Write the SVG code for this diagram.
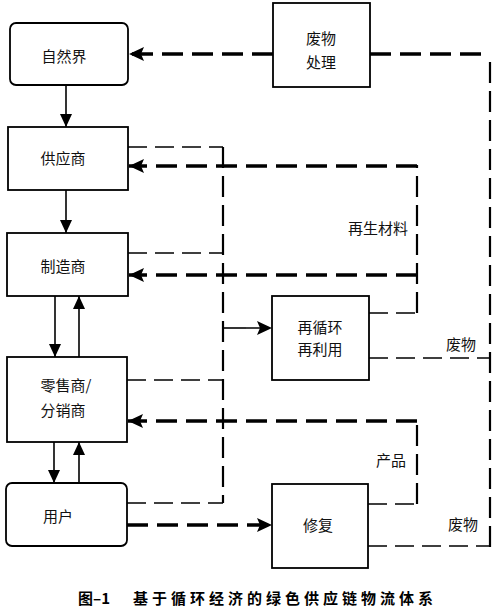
<svg xmlns="http://www.w3.org/2000/svg" width="500" height="616" viewBox="0 0 500 616">
<defs>
<marker id="ah" markerUnits="userSpaceOnUse" markerWidth="14" markerHeight="14" refX="13" refY="7" orient="auto"><path d="M0,1 L13,7 L0,13 z" fill="#000"/></marker>
<marker id="ahb" markerUnits="userSpaceOnUse" markerWidth="16" markerHeight="16" refX="15" refY="8" orient="auto"><path d="M0,1 L15,8 L0,15 L3,8 z" fill="#000"/></marker>
<style>
.box{fill:#fff;stroke:#000;stroke-width:1.8}
.t{font-family:"Noto Sans CJK SC","Liberation Sans",sans-serif;font-size:15px;fill:#111;text-anchor:middle;dominant-baseline:central}
.solid{fill:none;stroke:#000;stroke-width:1.6}
.thick{fill:none;stroke:#000;stroke-width:3.6;stroke-dasharray:21 9}
.med{fill:none;stroke:#000;stroke-width:2.2;stroke-dasharray:21 8}
.thin{fill:none;stroke:#000;stroke-width:1.5;stroke-dasharray:19 8}
.cap{font-family:"Noto Sans CJK SC","Liberation Sans",sans-serif;font-size:15px;font-weight:bold;fill:#000}
</style>
</defs>
<g id="connectors">
<path class="solid" d="M66,85 V127" marker-end="url(#ah)"/>
<path class="solid" d="M66,190 V233" marker-end="url(#ah)"/>
<path class="solid" d="M55,296 V357" marker-end="url(#ah)"/>
<path class="solid" d="M79,357 V296" marker-end="url(#ah)"/>
<path class="solid" d="M54,442 V483" marker-end="url(#ah)"/>
<path class="solid" d="M79,483 V442" marker-end="url(#ah)"/>
<path class="thick" d="M273,54 H129" marker-end="url(#ahb)"/>
<path class="thick" d="M370,54 H490"/>
<path class="med" d="M490,547 V54"/>
<path class="thin" d="M369,358 H490"/>
<path class="thin" d="M368,546 H490"/>
<path class="thin" d="M369,313 H417"/>
<path class="med" d="M417,313 V165"/>
<path class="thick" d="M417,166 H129" marker-end="url(#ahb)"/>
<path class="thick" d="M417,275 H129" marker-end="url(#ahb)"/>
<path class="thin" d="M368,504 H417"/>
<path class="med" d="M417,504 V421"/>
<path class="thick" d="M417,421 H128" marker-end="url(#ahb)"/>
<path class="thin" d="M128,147 H223"/>
<path class="med" d="M223,147 V503"/>
<path class="thin" d="M128,253 H223"/>
<path class="thin" d="M127,380 H223"/>
<path class="thin" d="M127,503 H223"/>
<path class="solid" d="M223,328 H246"/>
<path class="thin" d="M246,328 H272" marker-end="url(#ahb)"/>
<path class="thick" d="M127,525 H272" marker-end="url(#ahb)"/>
</g>
<g id="ziranjie"><rect class="box" x="10" y="23" width="118" height="62" rx="6"/><text class="t" x="64" y="55">自然界</text></g>
<g id="feiwuchuli"><rect class="box" x="273" y="3" width="97" height="84"/><text class="t" x="321" y="37">废物</text><text class="t" x="321" y="61">处理</text></g>
<g id="gongyingshang"><rect class="box" x="8" y="127" width="120" height="63"/><text class="t" x="63" y="157">供应商</text></g>
<g id="zhizaoshang"><rect class="box" x="7" y="233" width="121" height="63"/><text class="t" x="63" y="265">制造商</text></g>
<g id="lingshoushang"><rect class="box" x="7" y="357" width="120" height="85"/><text class="t" x="66" y="384">零售商/</text><text class="t" x="63" y="409">分销商</text></g>
<g id="yonghu"><rect class="box" x="6" y="483" width="121" height="63" rx="6"/><text class="t" x="58" y="515">用户</text></g>
<g id="zaixunhuan"><rect class="box" x="272" y="296" width="97" height="84"/><text class="t" x="320" y="326">再循环</text><text class="t" x="320" y="348">再利用</text></g>
<g id="xiufu"><rect class="box" x="272" y="484" width="96" height="84"/><text class="t" x="318" y="524">修复</text></g>
<g id="labels">
<text class="t" x="378" y="227">再生材料</text>
<text class="t" x="461" y="343">废物</text>
<text class="t" x="391" y="459">产品</text>
<text class="t" x="463" y="523">废物</text>
</g>
<g id="caption">
<text class="cap" x="78" y="604">图–1</text>
<text class="cap" x="133" y="604" textLength="300" lengthAdjust="spacing">基于循环经济的绿色供应链物流体系</text>
</g>
</svg>
